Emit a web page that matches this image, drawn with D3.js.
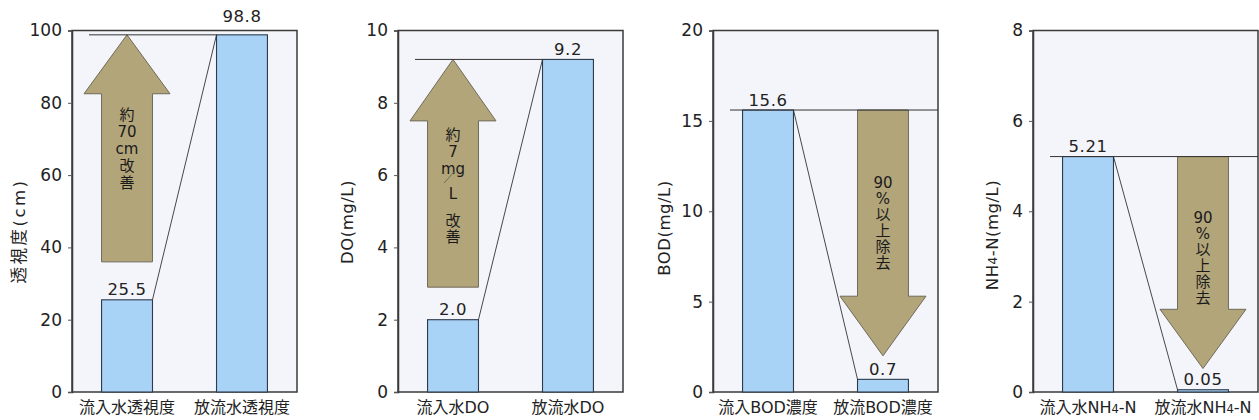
<!DOCTYPE html>
<html><head><meta charset="utf-8">
<script src="https://cdn.jsdelivr.net/npm/d3@7"></script>
<style>
html,body{margin:0;padding:0;background:#fff;}
svg text{font-family:"DejaVu Sans","Noto Sans CJK JP",sans-serif;fill:#222;}
</style></head>
<body><svg id="c" width="1259" height="420"></svg>
<script>
// ---- data ----
const categories = [
  ["流入水透視度","放流水透視度"],
  ["流入水DO","放流水DO"],
  ["流入BOD濃度","放流BOD濃度"],
  ["流入水NH4-N","放流水NH4-N"]
];
const values = [[25.5,98.8],[2.0,9.2],[15.6,0.7],[5.21,0.05]];
const valueLabels = [["25.5","98.8"],["2.0","9.2"],["15.6","0.7"],["5.21","0.05"]];
const yMax = [100,10,20,8];
const tickValues = [[0,20,40,60,80,100],[0,2,4,6,8,10],[0,5,10,15,20],[0,2,4,6,8]];
const yTitles = ["透視度(cm)","DO(mg/L)","BOD(mg/L)","NH4-N(mg/L)"];
const arrowDirection = ["up","up","down","down"];
const arrowStart = [36, 2.9, 15.6, 5.21];
const arrowHeadBase = [82.5, 7.5, 5.3, 1.83];
const arrowTip = [98.8, 9.2, 2.0, 0.52];
const arrowText = [
  ["約","70","cm","改","善"],
  ["約","7","mg","/","L","改","善"],
  ["90","%","以","上","除","去"],
  ["90","%","以","上","除","去"]
];

// ---- layout ----
const panelLeft = [72, 398, 713, 1033];
const panelW = 225, plotTop = 30.5, plotBottom = 392;
const yTitleOffset = [52, 50, 48, 40];
const yTitleCenter = [231, 222, 228, 235];
const yTitleSpacing = [2.5, 0.5, 0.5, 0.5];
const arrowTextTop = [115, 135, 183, 218];
const latin = '"DejaVu Sans","Noto Sans CJK JP",sans-serif';

const svg = d3.select("#c");

function subText(sel, str, size){
  const i = str.indexOf("NH4");
  if (i < 0) { sel.text(str); return; }
  sel.append("tspan").text(str.slice(0, i + 2));
  sel.append("tspan").attr("font-size", size*0.72).text("4");
  sel.append("tspan").text(str.slice(i + 3));
}

categories.forEach((cats, p) => {
  const g = svg.append("g").attr("transform", `translate(${panelLeft[p]},0)`);
  const x = d3.scaleBand().domain(cats).range([0, panelW]).paddingInner(0.557).paddingOuter(0.257);
  const y = d3.scaleLinear().domain([0, yMax[p]]).range([plotBottom, plotTop]);
  const bw = x.bandwidth();

  g.append("rect").attr("x",0).attr("y",plotTop).attr("width",panelW).attr("height",plotBottom-plotTop)
    .attr("fill","#f4f5fa").attr("stroke","#3a3a3a").attr("stroke-width",1.5);

  const ax = g.append("g").call(d3.axisLeft(y).tickValues(tickValues[p]).tickSize(4).tickPadding(6).tickFormat(d3.format("d")));
  ax.select(".domain").attr("stroke","#3a3a3a").attr("stroke-width",1.5);
  ax.selectAll(".tick line").attr("stroke","#555");
  ax.selectAll(".tick text").attr("font-size",17).attr("fill","#222").style("font-family",latin);

  const yt = g.append("text").attr("transform",`translate(${-yTitleOffset[p]},${yTitleCenter[p]}) rotate(-90)`)
    .attr("text-anchor","middle").attr("dominant-baseline","middle").attr("font-size",16.5)
    .attr("letter-spacing", yTitleSpacing[p]);
  subText(yt, yTitles[p], 16.5);

  const data = cats.map((c,i)=>({c, v: values[p][i], l: valueLabels[p][i]}));
  g.selectAll("rect.bar").data(data).enter().append("rect").attr("class","bar")
    .attr("x", d=>x(d.c)).attr("y", d=>y(d.v)).attr("width", bw).attr("height", d=>plotBottom - y(d.v))
    .attr("fill","#a8d2f6").attr("stroke","#2b3a4c").attr("stroke-width",1.1);

  const dir = arrowDirection[p];
  const ac = dir === "up" ? cats[0] : cats[1];
  const ax0 = x(ac), ax1 = x(ac) + bw, acx = ax0 + bw/2, hh = 43;
  const ys = y(arrowStart[p]), yb = y(arrowHeadBase[p]), yt2 = y(arrowTip[p]);
  const pts = [[ax0,ys],[ax0,yb],[acx-hh,yb],[acx,yt2],[acx+hh,yb],[ax1,yb],[ax1,ys]];
  g.append("path").attr("d", d3.line()(pts) + "Z")
    .attr("fill","#b3a57a").attr("stroke","#6f6a5a").attr("stroke-width",1);

  const vIn = values[p][0], vOut = values[p][1];
  const refV = Math.max(vIn, vOut);
  const refEnd = dir === "up" ? x(cats[1]) : panelW;
  g.append("line").attr("x1",17).attr("x2",refEnd).attr("y1",y(refV)).attr("y2",y(refV))
    .attr("stroke","#333").attr("stroke-width",1);
  g.append("line").attr("x1",x(cats[0])+bw).attr("y1",y(vIn)).attr("x2",x(cats[1])).attr("y2",y(vOut))
    .attr("stroke","#333").attr("stroke-width",0.9);

  g.selectAll("text.val").data(data).enter().append("text").attr("class","val")
    .attr("x", d=>x(d.c)+bw/2)
    .attr("y", d=>{ const yy = y(d.v) - 4.5; return yy < plotTop + 10 ? plotTop - 9 : yy; })
    .attr("text-anchor","middle").attr("font-size",16.5).attr("letter-spacing",0.6).text(d=>d.l);

  g.selectAll("text.cat").data(data).enter().append("text").attr("class","cat")
    .attr("x", d=>x(d.c)+bw/2).attr("y", 413).attr("text-anchor","middle").attr("font-size",16)
    .each(function(d){ subText(d3.select(this), d.c, 16); });

  const lines = arrowText[p];
  const gaps = p === 1 ? [0,17,17,0,25,27,16] : lines.map((_,i)=> i===0 ? 0 : (p===0?17:16));
  const tt = g.append("text").attr("text-anchor","middle").attr("font-size",15)
    .attr("fill","#1a1a1a").style("fill","#1a1a1a")
    .attr("y", arrowTextTop[p]).attr("dominant-baseline","middle");
  let cy = arrowTextTop[p];
  lines.forEach((t,i)=>{
    cy += gaps[i];
    if (t === "/") {
      g.append("line").attr("x1",acx-9).attr("y1",cy+14).attr("x2",acx+1).attr("y2",cy+3)
        .attr("stroke","#6f6a50").attr("stroke-width",1);
      return;
    }
    tt.append("tspan").attr("x",acx).attr("y",cy).text(t);
  });
});
</script></body></html>
